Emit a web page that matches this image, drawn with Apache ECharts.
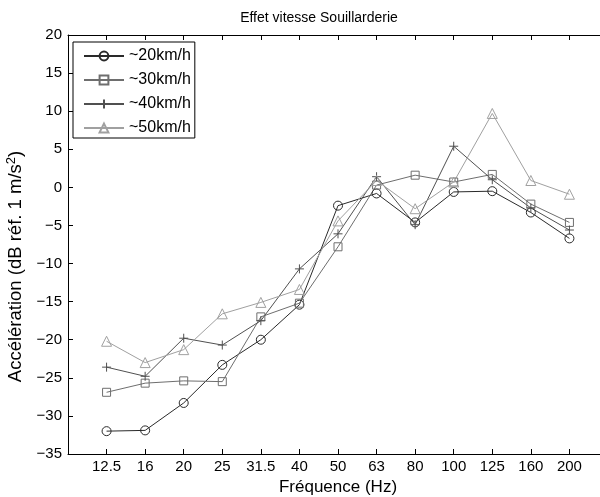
<!DOCTYPE html>
<html>
<head>
<meta charset="utf-8">
<script src="https://cdn.jsdelivr.net/npm/echarts@6/dist/echarts.min.js"></script>
<style>html,body{margin:0;padding:0;background:#fff;overflow:hidden}#c{width:620px;height:497px}</style>
</head>
<body>
<div id="c"></div>
<script>
const categories = ['12.5','16','20','25','31.5','40','50','63','80','100','125','160','200'];
const s20 = [-32.0,-31.9,-28.3,-23.3,-20.0,-15.4,-2.4,-0.8,-4.6,-0.6,-0.5,-3.3,-6.7];
const s30 = [-26.9,-25.7,-25.4,-25.5,-17.0,-15.2,-7.8,0.3,1.6,0.7,1.7,-2.2,-4.6];
const s40 = [-23.6,-24.8,-19.8,-20.7,-17.5,-10.7,-6.1,1.4,-4.9,5.4,1.0,-2.7,-5.6];
const s50 = [-20.2,-23.0,-21.3,-16.6,-15.1,-13.4,-4.4,0.9,-2.8,0.7,9.7,0.9,-0.9];
const seriesNames = ['~20km/h','~30km/h','~40km/h','~50km/h'];
const yTicks = {min:-35, max:20, interval:5};

const font = 'Liberation Sans, Arial, Helvetica, sans-serif';
const cats = [''].concat(categories, ['']);
const pad = arr => [null].concat(arr, [null]);
const colors = ['#2a2a2a','#6e6e6e','#505050','#a0a0a0'];
const symbols = ['circle','rect','path://M5,0L5,10M0,5L10,5','triangle'];
const sizes = [9,8,9,10];
const data = [s20,s30,s40,s50];

const chart = echarts.init(document.getElementById('c'), null, {renderer:'canvas'});
const axisLine = {show:true, onZero:false, lineStyle:{color:'#000', width:1}};
chart.setOption({
  animation:false,
  backgroundColor:'#fff',
  textStyle:{fontFamily:font},
  title:{text:'Effet vitesse Souillarderie', left:314, textAlign:'center', top:6,
    textStyle:{fontFamily:font, fontSize:14, fontWeight:'normal', color:'#000'}},
  legend:{
    left:73, top:42, orient:'vertical',
    data: seriesNames,
    itemWidth:40, itemHeight:11, itemGap:8,
    padding:[6,4,2,10],
    borderColor:'#000', borderWidth:1, backgroundColor:'#fff',
    textStyle:{fontFamily:font, fontSize:16, color:'#000'}
  },
  grid:{left:68, top:35, right:12, bottom:43, containLabel:false, outerBoundsMode:'none'},
  xAxis:[{
    type:'category', data:cats, boundaryGap:false, position:'bottom',
    name:'Fréquence (Hz)', nameLocation:'middle', nameGap:25,
    nameTextStyle:{fontFamily:font, fontSize:17, color:'#000'},
    axisLine:axisLine,
    axisTick:{inside:true, length:5, lineStyle:{color:'#000'}, interval:0},
    axisLabel:{fontFamily:font, fontSize:15, color:'#000', margin:5, interval:0},
    splitLine:{show:false}
  },{
    type:'category', data:cats, boundaryGap:false, position:'top',
    axisLine:axisLine,
    axisTick:{inside:true, length:5, lineStyle:{color:'#000'}, interval:0},
    axisLabel:{show:false}, splitLine:{show:false}
  }],
  yAxis:[{
    type:'value', min:yTicks.min, max:yTicks.max, interval:yTicks.interval,
    name:'Accélération (dB réf. 1 m/s{sup|2})', nameLocation:'middle', nameGap:41,
    nameTextStyle:{fontFamily:font, fontSize:18.5, color:'#000', padding:[0,44,0,0],
      rich:{sup:{fontFamily:font, fontSize:13, color:'#000', verticalAlign:'top', padding:[0,0,9,0]}}},
    axisLine:axisLine,
    axisTick:{show:true, inside:true, length:5, lineStyle:{color:'#000'}},
    axisLabel:{fontFamily:font, fontSize:15, color:'#000', margin:6,
      formatter: v => String(v).replace('-', '\u2212')},
    splitLine:{show:false}
  }],
  series: data.map((d,i)=>({
    name:seriesNames[i], type:'line', xAxisIndex:0, yAxisIndex:0,
    data:pad(d), symbol:symbols[i], symbolSize:sizes[i], showSymbol:true,
    connectNulls:false,
    lineStyle:{color:colors[i], width:1},
    itemStyle:{color:'rgba(0,0,0,0)', borderColor:colors[i], borderWidth:1},
    emphasis:{disabled:true}
  }))
});
</script>
</body>
</html>
